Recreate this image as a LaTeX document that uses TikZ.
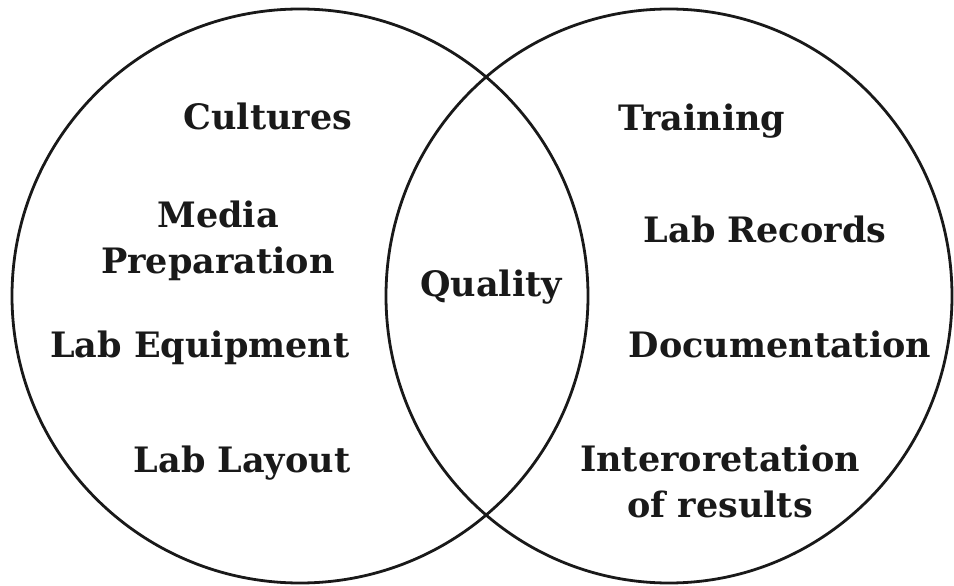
\documentclass[tikz,border=0pt]{standalone}
\usepackage{fontspec}
\setmainfont{DejaVu Serif}
\begin{document}
\begin{tikzpicture}[x=1pt,y=-1pt,
  ring/.style={draw=black!90,line width=2.8pt},
  lbl/.style={font=\bfseries\fontsize{35}{46}\selectfont,text=black!90,anchor=base,inner sep=0pt,align=center}]
\useasboundingbox (0,0) rectangle (954,586);
\draw[ring] (300,296) ellipse [x radius=288,y radius=287];
\draw[ring] (669,296) ellipse [x radius=283,y radius=287];
\node[lbl] (cult) at (268,129) {Cultures};
\node[lbl] (media) at (218,273) {Media\\Preparation};
\node[lbl] (equip) at (200,357) {Lab Equipment};
\node[lbl] (layout) at (242,472) {Lab Layout};
\node[lbl] (qual) at (491,296) {Quality};
\node[lbl] (train) at (702,131) {Training};
\node[lbl] (rec) at (765,242) {Lab Records};
\node[lbl] (doc) at (780,357) {Documentation};
\node[lbl] (interp) at (720,517) {Interoretation\\of results};
\end{tikzpicture}
\end{document}
